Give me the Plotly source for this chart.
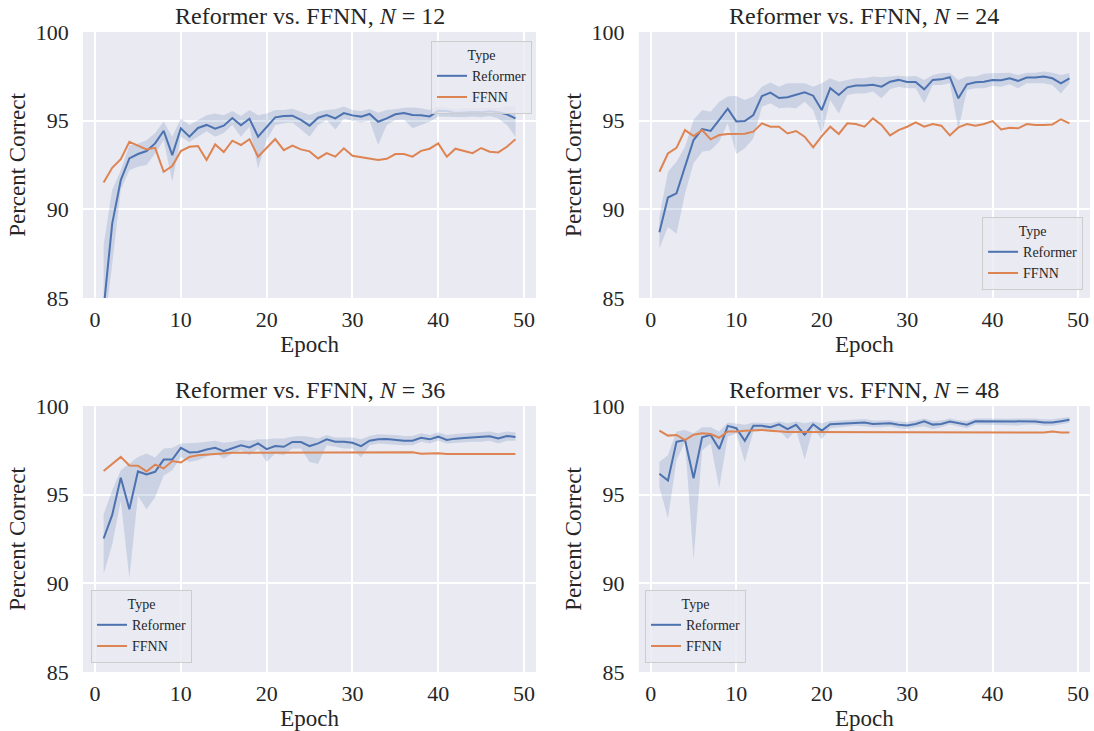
import plotly.graph_objects as go

# epochs 1..49
epochs = list(range(1, 50))
x_ticks = [0, 10, 20, 30, 40, 50]
y_ticks = [85, 90, 95, 100]
n_values = [12, 24, 36, 48]

# N = 12
ref12 = [84.4, 89.2, 91.65, 92.87, 93.12, 93.29, 93.72, 94.43, 93.06, 94.57,
         94.1, 94.59, 94.76, 94.55, 94.72, 95.15, 94.74, 95.11, 94.1, 94.66,
         95.19, 95.26, 95.28, 95.04, 94.72, 95.17, 95.32, 95.13, 95.43, 95.3,
         95.23, 95.38, 94.94, 95.13, 95.36, 95.43, 95.32, 95.3, 95.24, 95.56,
         95.55, 95.43, 95.47, 95.49, 95.47, 95.53, 95.47, 95.36, 95.13]
lo12 = [83.0, 86.9, 91.1, 92.2, 92.4, 92.5, 93.15, 93.9, 91.55, 94.1,
        93.8, 94.1, 94.4, 94.1, 94.3, 94.75, 94.1, 94.66, 92.3, 93.9,
        94.75, 94.85, 94.9, 94.5, 94.1, 94.75, 95.04, 94.5, 95.13, 95.0,
        94.9, 95.0, 93.63, 94.75, 95.04, 95.07, 94.57, 94.75, 94.94, 95.23,
        95.23, 95.19, 95.19, 95.23, 95.19, 95.26, 95.13, 94.75, 94.1]
hi12 = [88.0, 91.1, 92.2, 93.6, 93.7, 93.9, 94.3, 94.95, 94.1, 95.13,
        94.75, 95.04, 95.3, 95.4, 95.3, 95.55, 95.26, 95.6, 95.3, 95.4,
        95.6, 95.6, 95.68, 95.5, 95.32, 95.5, 95.6, 95.64, 95.8, 95.6,
        95.55, 95.66, 95.45, 95.6, 95.64, 95.73, 95.75, 95.7, 95.6, 95.8,
        95.75, 95.64, 95.7, 95.7, 95.7, 95.75, 95.7, 95.8, 95.83]
ff12 = [91.52, 92.34, 92.83, 93.81, 93.59, 93.38, 93.47, 92.12, 92.44, 93.29,
        93.53, 93.57, 92.78, 93.66, 93.23, 93.87, 93.63, 93.96, 92.97, 93.49,
        93.96, 93.34, 93.6, 93.38, 93.27, 92.87, 93.17, 92.97, 93.44, 93.02,
        92.93, 92.83, 92.78, 92.85, 93.12, 93.12, 92.97, 93.3, 93.42, 93.72,
        92.97, 93.42, 93.3, 93.17, 93.46, 93.25, 93.21, 93.53, 93.95]

# N = 24
ref24 = [88.71, 90.67, 90.9, 92.4, 93.91, 94.53, 94.42, 95.04, 95.68, 94.96,
         94.98, 95.32, 96.39, 96.58, 96.28, 96.32, 96.45, 96.6, 96.41, 95.6,
         96.83, 96.45, 96.88, 96.98, 96.98, 97.03, 96.92, 97.2, 97.3, 97.18,
         97.18, 96.77, 97.3, 97.33, 97.45, 96.26, 97.05, 97.17, 97.2, 97.3,
         97.28, 97.39, 97.24, 97.43, 97.43, 97.49, 97.39, 97.11, 97.39]
lo24 = [87.79, 89.01, 88.63, 90.9, 92.6, 93.25, 93.34, 93.81, 94.85, 93.12,
        93.44, 94.0, 95.79, 95.98, 95.7, 95.75, 95.7, 96.07, 95.6, 94.25,
        96.17, 95.41, 96.45, 96.54, 96.54, 96.64, 96.26, 96.77, 96.92, 96.83,
        96.83, 95.98, 97.01, 97.01, 97.11, 94.51, 96.73, 96.83, 96.83, 96.96,
        96.92, 97.05, 96.83, 97.11, 97.11, 97.11, 97.01, 96.54, 97.11]
hi24 = [89.58, 92.12, 92.68, 93.53, 95.04, 95.6, 95.5, 96.07, 96.36, 96.39,
        96.17, 96.36, 96.92, 97.15, 96.92, 97.11, 97.11, 97.11, 96.92, 97.11,
        97.39, 97.2, 97.3, 97.39, 97.39, 97.49, 97.45, 97.49, 97.54, 97.49,
        97.52, 97.3, 97.58, 97.67, 97.71, 97.3, 97.49, 97.49, 97.64, 97.67,
        97.67, 97.71, 97.58, 97.71, 97.71, 97.77, 97.71, 97.58, 97.67]
ff24 = [92.12, 93.15, 93.47, 94.47, 94.13, 94.47, 93.95, 94.19, 94.25, 94.25,
        94.27, 94.38, 94.85, 94.66, 94.66, 94.28, 94.42, 94.1, 93.49, 94.13,
        94.66, 94.25, 94.85, 94.81, 94.66, 95.13, 94.76, 94.17, 94.47, 94.66,
        94.91, 94.66, 94.81, 94.72, 94.17, 94.62, 94.81, 94.72, 94.81, 94.98,
        94.51, 94.6, 94.57, 94.81, 94.76, 94.76, 94.79, 95.08, 94.85]

# N = 36
ref36 = [92.53, 93.86, 95.95, 94.18, 96.31, 96.14, 96.29, 96.98, 96.98, 97.64,
         97.38, 97.41, 97.55, 97.64, 97.45, 97.64, 97.79, 97.66, 97.89, 97.57,
         97.74, 97.7, 97.97, 97.97, 97.74, 97.89, 98.12, 97.98, 97.98, 97.93,
         97.74, 98.04, 98.12, 98.14, 98.08, 98.04, 98.04, 98.21, 98.12, 98.27,
         98.08, 98.16, 98.19, 98.23, 98.23, 98.29, 98.17, 98.31, 98.25]
lo36 = [90.51, 92.19, 94.66, 90.29, 94.94, 94.18, 94.85, 96.08, 96.37, 97.13,
        96.84, 96.94, 97.13, 97.36, 97.03, 97.32, 97.51, 97.22, 97.6, 96.84,
        97.32, 97.22, 97.6, 97.6, 96.84, 96.75, 97.79, 97.7, 97.6, 97.6,
        97.09, 97.79, 97.89, 97.89, 97.83, 97.79, 97.79, 97.98, 97.89, 98.04,
        97.89, 97.93, 97.95, 97.98, 97.98, 98.04, 97.89, 98.04, 98.04]
hi36 = [93.9, 95.23, 96.37, 96.75, 97.13, 97.32, 97.09, 97.6, 97.64, 97.89,
        97.89, 97.93, 97.98, 98.04, 97.93, 97.98, 98.08, 98.04, 98.12, 98.12,
        98.17, 98.17, 98.27, 98.31, 98.27, 98.17, 98.37, 98.23, 98.23, 98.23,
        98.12, 98.31, 98.4, 98.4, 98.37, 98.31, 98.31, 98.46, 98.37, 98.52,
        98.37, 98.42, 98.46, 98.46, 98.5, 98.56, 98.46, 98.56, 98.52]
ff36 = [96.33, 96.71, 97.13, 96.65, 96.63, 96.31, 96.69, 96.48, 96.9, 96.81,
        97.13, 97.22, 97.26, 97.32, 97.36, 97.36, 97.36, 97.36, 97.36, 97.36,
        97.36, 97.36, 97.36, 97.36, 97.36, 97.36, 97.36, 97.36, 97.36, 97.36,
        97.36, 97.36, 97.39, 97.39, 97.4, 97.4, 97.39, 97.31, 97.34, 97.34,
        97.3, 97.3, 97.3, 97.3, 97.3, 97.3, 97.3, 97.3, 97.3]

# N = 48
ref48 = [96.18, 95.8, 97.98, 98.08, 95.93, 98.23, 98.37, 97.57, 98.88, 98.75,
         98.04, 98.88, 98.88, 98.8, 98.97, 98.69, 98.94, 98.38, 98.97, 98.61,
         98.97, 98.99, 99.03, 99.07, 99.07, 98.99, 98.99, 99.03, 98.94, 98.9,
         98.99, 99.14, 98.95, 98.99, 99.13, 99.03, 98.95, 99.14, 99.14, 99.11,
         99.11, 99.11, 99.11, 99.14, 99.13, 99.07, 99.07, 99.14, 99.22]
lo48 = [95.42, 93.67, 96.94, 97.98, 91.33, 97.51, 97.89, 95.38, 98.27, 98.46,
        96.84, 98.56, 98.61, 98.56, 98.65, 98.12, 98.65, 96.98, 98.75, 98.12,
        98.75, 98.8, 98.84, 98.88, 98.84, 98.8, 98.8, 98.85, 98.75, 98.7,
        98.8, 98.85, 98.7, 98.8, 98.95, 98.85, 98.75, 98.95, 98.95, 98.92,
        98.92, 98.92, 98.9, 98.95, 98.95, 98.88, 98.88, 98.95, 99.05]
hi48 = [96.84, 97.22, 98.56, 98.65, 98.46, 98.8, 98.8, 98.56, 99.07, 98.99,
        98.94, 99.07, 99.07, 99.03, 99.13, 99.03, 99.13, 99.03, 99.13, 99.03,
        99.16, 99.18, 99.22, 99.26, 99.26, 99.18, 99.18, 99.2, 99.12, 99.1,
        99.18, 99.3, 99.15, 99.18, 99.3, 99.2, 99.15, 99.3, 99.3, 99.28,
        99.28, 99.28, 99.3, 99.32, 99.3, 99.25, 99.25, 99.32, 99.38]
ff48 = [98.61, 98.33, 98.37, 98.08, 98.38, 98.46, 98.42, 98.21, 98.56, 98.56,
        98.61, 98.65, 98.65, 98.61, 98.57, 98.54, 98.54, 98.54, 98.52, 98.52,
        98.52, 98.52, 98.52, 98.52, 98.52, 98.5, 98.5, 98.5, 98.5, 98.5,
        98.5, 98.5, 98.5, 98.5, 98.5, 98.5, 98.5, 98.5, 98.5, 98.5,
        98.5, 98.5, 98.5, 98.5, 98.5, 98.5, 98.56, 98.5, 98.5]

BLUE = "#4c72b0"
ORANGE = "#dd8452"
BAND = "rgba(76,114,176,0.2)"
TXT = "#262626"
SERIF = "Liberation Serif, DejaVu Serif, serif"

panels = [(ref12, lo12, hi12, ff12), (ref24, lo24, hi24, ff24),
          (ref36, lo36, hi36, ff36), (ref48, lo48, hi48, ff48)]

x_domains = [[0.0759, 0.49], [0.584, 0.9963], [0.0759, 0.49], [0.584, 0.9963]]
y_domains = [[0.5923, 0.9562], [0.5923, 0.9562], [0.0807, 0.4446], [0.0807, 0.4446]]
# legend anchor per panel: x, y, xanchor, yanchor
legend_pos = [(0.4863, 0.9439, "right", "top"), (0.99, 0.6033, "right", "bottom"),
              (0.0832, 0.093, "left", "bottom"), (0.5896, 0.093, "left", "bottom")]

fig = go.Figure()
layout = dict(
    width=1094, height=731,
    margin=dict(l=0, r=0, t=0, b=0),
    paper_bgcolor="white",
    font=dict(family=SERIF, color=TXT),
    annotations=[],
)

for i, (ref, lo, hi, ff) in enumerate(panels):
    k = "" if i == 0 else str(i + 1)
    xa, ya = "x" + k, "y" + k
    leg = "legend" + k

    fig.add_trace(go.Scatter(x=epochs + epochs[::-1], y=hi + lo[::-1], fill="toself",
                             fillcolor=BAND, line=dict(width=0), mode="lines",
                             showlegend=False, hoverinfo="skip", xaxis=xa, yaxis=ya))
    fig.add_trace(go.Scatter(x=epochs, y=ref, mode="lines", name="Reformer",
                             line=dict(color=BLUE, width=2), legend=leg,
                             xaxis=xa, yaxis=ya))
    fig.add_trace(go.Scatter(x=epochs, y=ff, mode="lines", name="FFNN",
                             line=dict(color=ORANGE, width=2), legend=leg,
                             xaxis=xa, yaxis=ya))

    layout["xaxis" + k] = dict(
        domain=x_domains[i], anchor=ya, range=[-1.4, 51.4], automargin=False,
        tickvals=x_ticks, ticks="outside", ticklen=2, tickcolor="rgba(0,0,0,0)",
        tickfont=dict(size=22), showgrid=True, gridcolor="white", gridwidth=1.6,
        zeroline=False, showline=False,
        title=dict(text="Epoch", font=dict(size=23), standoff=4),
    )
    layout["yaxis" + k] = dict(
        domain=y_domains[i], anchor=xa, range=[85, 100], automargin=False,
        tickvals=y_ticks, ticks="outside", ticklen=9, tickcolor="rgba(0,0,0,0)",
        tickfont=dict(size=22), showgrid=True, gridcolor="white", gridwidth=1.6,
        zeroline=False, showline=False,
        title=dict(text="Percent Correct", font=dict(size=23), standoff=3),
    )
    lx, ly, lxa, lya = legend_pos[i]
    layout[leg] = dict(
        x=lx, y=ly, xanchor=lxa, yanchor=lya,
        bgcolor="rgba(234,234,242,0.8)", bordercolor="#cccccc", borderwidth=1,
        font=dict(size=14), itemwidth=30, tracegroupgap=0,
        title=dict(text="Type", side="top center", font=dict(size=14)),
    )
    layout["annotations"].append(dict(
        text="Reformer vs. FFNN, <i>N</i> = %d" % n_values[i],
        x=sum(x_domains[i]) / 2, y=y_domains[i][1] + 0.002,
        xref="paper", yref="paper", xanchor="center", yanchor="bottom",
        showarrow=False, font=dict(size=24),
    ))

layout["plot_bgcolor"] = "#eaeaf2"
fig.update_layout(**layout)

# drop the browser's default 8px body margin so the figure sits at the page corner
fig.write_html("out.html", config={"displayModeBar": False},
               post_script="document.body.style.margin='0';")
